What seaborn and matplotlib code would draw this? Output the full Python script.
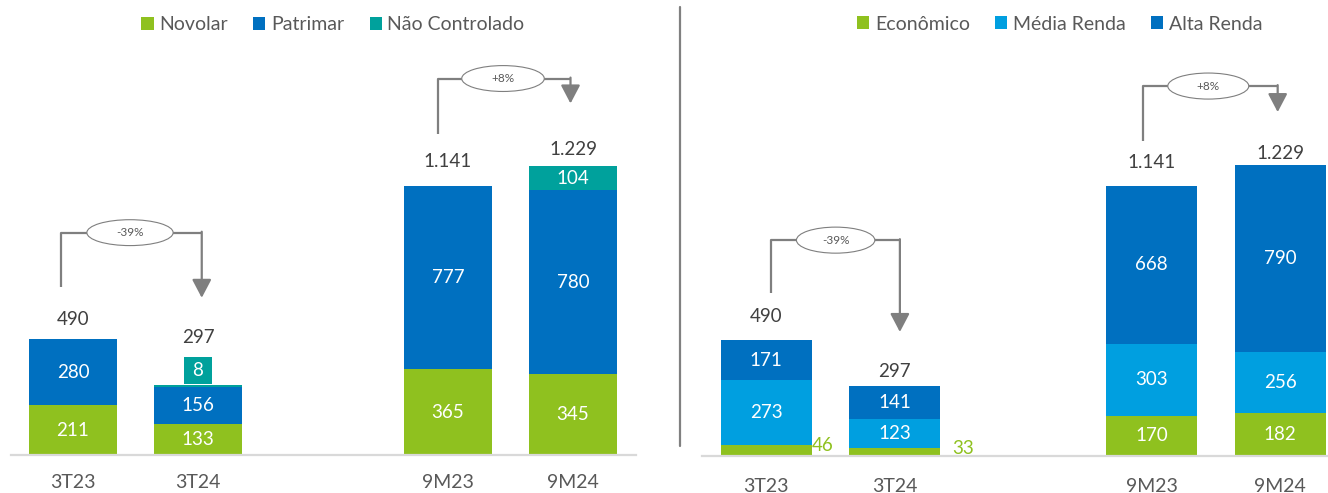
import numpy as np
import seaborn as sns
import matplotlib.pyplot as plt
from matplotlib.lines import Line2D
from matplotlib.patches import Ellipse, Patch

# --- data ---
periods = ["3T23", "3T24", "9M23", "9M24"]
slots = [0, 1, 3, 4]  # empty slot between quarter and 9-month groups

novolar = [211, 133, 365, 345]
patrimar = [280, 156, 777, 780]
nao_controlado = [0, 8, 0, 104]
totals_left = [490, 297, 1141, 1229]

economico = [46, 33, 170, 182]
media_renda = [273, 123, 303, 256]
alta_renda = [171, 141, 668, 790]
totals_right = [490, 297, 1141, 1229]

changes = ["-39%", "+8%"]

# --- style ---
GREEN = "#8FC11F"
BLUE = "#0070C0"
TEAL = "#00A19C"
LIGHT_BLUE = "#009FE0"
GREY_TXT = "#595959"
DARK_TXT = "#404040"
LINE = "#7F7F7F"

sns.set_theme(style="white")
plt.rcParams["font.family"] = ["Lato", "DejaVu Sans"]


def fmt(v):
    return f"{v:,}".replace(",", ".")


def draw_panel(ax, series, names, colors, totals, ymax, label_gaps, brackets, tick_pad):
    vals = np.array(series)
    cum = np.cumsum(vals, axis=0)
    # stacked bars: draw cumulative heights from the top layer down
    for i in reversed(range(len(series))):
        sns.barplot(x=slots, y=cum[i], native_scale=True, color=colors[i],
                    width=0.71, saturation=1, linewidth=0, errorbar=None, ax=ax)

    for j, x in enumerate(slots):
        top = cum[-1][j]
        for i in range(len(series)):
            v = vals[i][j]
            if v == 0:
                continue
            base = cum[i][j] - v
            if v < 20:
                # small slice: callout box above the bar
                ax.bar(x, 118, bottom=top + 3, width=0.22, color=colors[i], linewidth=0)
                ax.text(x, top + 3 + 59, str(v), ha="center", va="center",
                        color="white", fontsize=13.5)
                top = top + 121
            elif v < 60:
                ax.text(x + 0.355 + (0.09 if j else 0.0), base + v, str(v),
                        ha="left", va="center", color=colors[i], fontsize=13.5)
            else:
                ax.text(x, base + v / 2, str(v), ha="center", va="center",
                        color="white", fontsize=13.5)
        ax.text(x, top + label_gaps[j], fmt(totals[j]), ha="center", va="center",
                color=DARK_TXT, fontsize=13.5)

    for label, b in zip(changes, brackets):
        x0, x1, ytop, ylow, ytip, ex, ew = b
        ax.plot([x0, x0, x1], [ylow, ytop, ytop], color=LINE, lw=1.6,
                solid_capstyle="butt", clip_on=False)
        ax.annotate("", xy=(x1, ytip), xytext=(x1, ytop + 4),
                    arrowprops=dict(arrowstyle="-|>,head_length=0.8,head_width=0.42",
                                    color=LINE, lw=1.6, shrinkA=0, shrinkB=0,
                                    mutation_scale=14),
                    annotation_clip=False)
        ax.add_patch(Ellipse((ex, ytop), ew, 110, facecolor="white",
                             edgecolor=LINE, lw=0.8, clip_on=False, zorder=5))
        ax.text(ex, ytop, label, ha="center", va="center", fontsize=8.5,
                color=GREY_TXT, zorder=6)

    ax.set_xlim(-0.5, 4.5)
    ax.set_ylim(0, ymax)
    ax.set_xticks(slots, periods)
    ax.set_yticks([])
    ax.set_xlabel("")
    ax.set_ylabel("")
    ax.tick_params(axis="x", length=0, pad=tick_pad, labelsize=14, labelcolor=GREY_TXT)
    for s in ["top", "left", "right"]:
        ax.spines[s].set_visible(False)
    ax.spines["bottom"].set_color("#D9D9D9")
    ax.spines["bottom"].set_linewidth(1.6)

    handles = [Patch(facecolor=c, edgecolor="none") for c in colors]
    return handles


fig = plt.figure(figsize=(13.28, 4.93), dpi=100)
ax1 = fig.add_axes([10.5 / 1328, 38 / 493, 625 / 1328, 400 / 493])
ax2 = fig.add_axes([702 / 1328, 37 / 493, 642.5 / 1328, 400 / 493])

h1 = draw_panel(
    ax1, [novolar, patrimar, nao_controlado], ["Novolar", "Patrimar", "Não Controlado"],
    [GREEN, BLUE, TEAL], totals_left, 1700, [85, 80, 105, 69],
    [(-0.096, 1.03, 945, 715, 668, 0.456, 0.69),
     (2.92, 3.98, 1600, 1366, 1494, 3.44, 0.66)], 14)
h2 = draw_panel(
    ax2, [economico, media_renda, alta_renda], ["Econômico", "Média Renda", "Alta Renda"],
    [GREEN, LIGHT_BLUE, BLUE], totals_right, 1690, [101, 58, 97, 51],
    [(0.04, 1.04, 912, 689, 524, 0.54, 0.61),
     (2.93, 3.98, 1563, 1331, 1453, 3.44, 0.63)], 16)

leg_kw = dict(loc="center", ncol=3, frameon=False, fontsize=14,
              handlelength=0.62, handleheight=0.62, handletextpad=0.3,
              columnspacing=1.3, labelcolor=GREY_TXT)
fig.legend(h1, ["Novolar", "Patrimar", "Não Controlado"],
           bbox_to_anchor=(333 / 1328, 1 - 25 / 493), **leg_kw)
fig.legend(h2, ["Econômico", "Média Renda", "Alta Renda"],
           bbox_to_anchor=(1060 / 1328, 1 - 24 / 493), **leg_kw)

fig.add_artist(Line2D([680 / 1328, 680 / 1328], [1 - 7 / 493, 1 - 446 / 493],
                      color="#808080", lw=1.6))

fig.savefig("out.png", dpi=100)
